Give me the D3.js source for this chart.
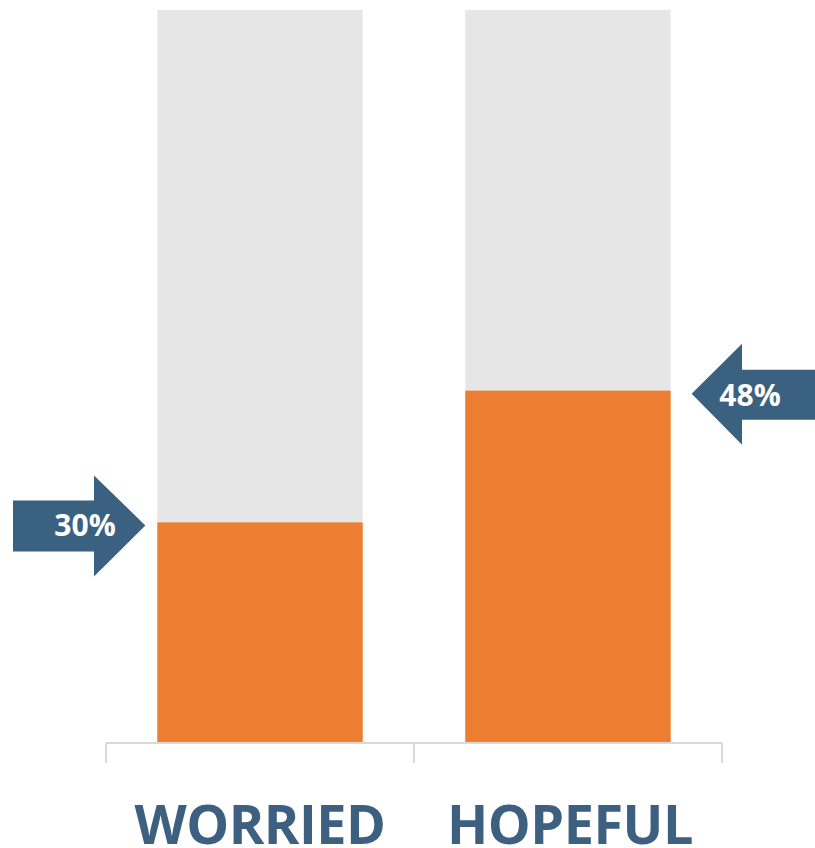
<!DOCTYPE html>
<html>
  <head>
    <meta charset="utf-8">
    <script src='https://d3js.org/d3.v7.min.js'></script>
    <style>
      body { margin: 0; background: #fff; }
    </style>
  </head>
  <body>
    <script>

    var categories = ['WORRIED', 'HOPEFUL'];
    var values = [0.30, 0.48];
    var labels = ['30%', '48%'];
    var arrowSide = ['left', 'right'];

    var width = 815;
    var height = 848;

    var svg = d3.select('body')
      .append('svg')
      .attr('width', width)
      .attr('height', height);

    var x = d3.scaleBand()
      .domain(categories)
      .range([106, 722])
      .paddingInner(0.333)
      .paddingOuter(0.1667);

    var y = d3.scaleLinear()
      .domain([0, 1])
      .range([742, 10]);

    var data = categories.map(function(c, i) {
      return {cat: c, v: values[i], label: labels[i], side: arrowSide[i]};
    });

    // grey background (100%)
    svg.selectAll('.bg')
      .data(data)
      .enter().append('rect')
      .attr('class', 'bg')
      .attr('x', function(d) { return x(d.cat); })
      .attr('width', x.bandwidth())
      .attr('y', y(1))
      .attr('height', y(0) - y(1))
      .style('fill', '#e6e6e6');

    svg.selectAll('.val')
      .data(data)
      .enter().append('rect')
      .attr('class', 'val')
      .attr('x', function(d) { return x(d.cat); })
      .attr('width', x.bandwidth())
      .attr('y', function(d) { return y(d.v); })
      .attr('height', function(d) { return y(0) - y(d.v); })
      .style('fill', '#ed7d31');

    // axis line with ticks between categories
    var axis = svg.append('g').style('stroke', '#d9d9d9').style('stroke-width', 2);
    axis.append('line')
      .attr('x1', 106).attr('x2', 722)
      .attr('y1', y(0) + 1).attr('y2', y(0) + 1);
    var tickX = [106, x(categories[0]) + x.bandwidth() + (x.step() - x.bandwidth()) / 2, 722];
    axis.selectAll('.tick')
      .data(tickX)
      .enter().append('line')
      .attr('x1', function(d) { return d; })
      .attr('x2', function(d) { return d; })
      .attr('y1', y(0) + 1)
      .attr('y2', y(0) + 21);

    svg.selectAll('.cat')
      .data(data)
      .enter().append('text')
      .attr('x', function(d) { return x(d.cat) + x.bandwidth() / 2 + (d.side === 'right' ? 2 : 0); })
      .attr('y', 844)
      .attr('text-anchor', 'middle')
      .style('font-family', 'Open Sans, sans-serif')
      .style('font-weight', 'bold')
      .style('font-size', '54px')
      .style('letter-spacing', '-0.5px')
      .style('fill', '#3d6080')
      .text(function(d) { return d.cat; });

    // arrows pointing at value
    var arrowColor = '#3b6180';
    data.forEach(function(d) {
      var ty = y(d.v) + 3;
      var g = svg.append('g');
      var pts;
      if (d.side === 'left') {
        var tip = x(d.cat) - 12;
        pts = [[13, ty - 25], [94, ty - 25], [94, ty - 50], [tip, ty], [94, ty + 51], [94, ty + 26], [13, ty + 26]];
        g.append('polygon')
          .attr('points', pts.map(function(p) { return p.join(','); }).join(' '))
          .style('fill', arrowColor);
        g.append('text')
          .attr('x', 85).attr('y', ty + 11)
          .attr('text-anchor', 'middle')
          .style('font-family', 'Open Sans, sans-serif')
          .style('font-weight', 'bold')
          .style('font-size', '30px')
          .style('fill', '#fff')
          .text(d.label);
      } else {
        var tip2 = x(d.cat) + x.bandwidth() + 21;
        pts = [[815, ty - 24], [742, ty - 24], [742, ty - 50], [tip2, ty], [742, ty + 51], [742, ty + 26], [815, ty + 26]];
        g.append('polygon')
          .attr('points', pts.map(function(p) { return p.join(','); }).join(' '))
          .style('fill', arrowColor);
        g.append('text')
          .attr('x', 750).attr('y', ty + 12)
          .attr('text-anchor', 'middle')
          .style('font-family', 'Open Sans, sans-serif')
          .style('font-weight', 'bold')
          .style('font-size', '30px')
          .style('fill', '#fff')
          .text(d.label);
      }
    });

    </script>
  </body>
</html>
